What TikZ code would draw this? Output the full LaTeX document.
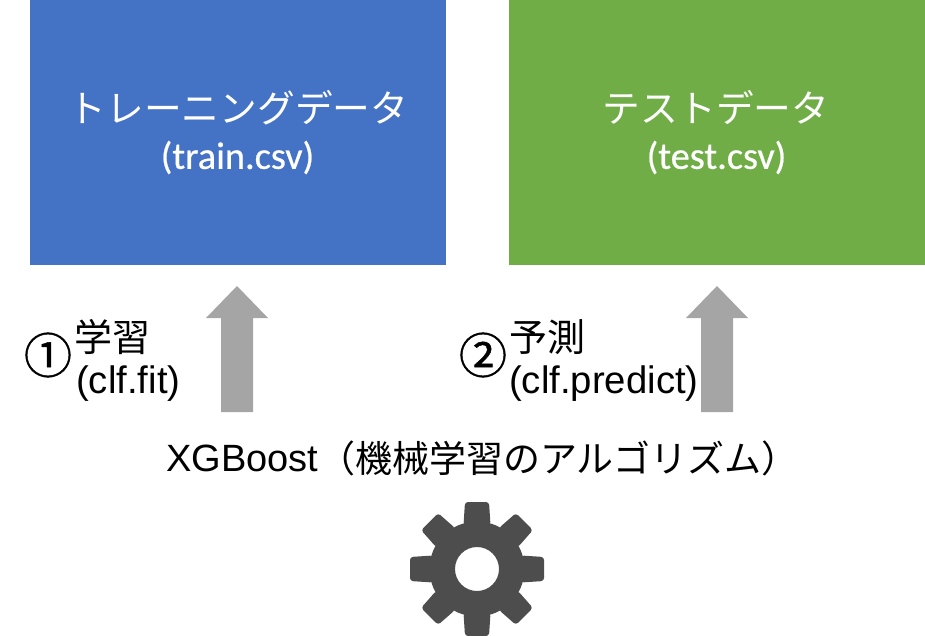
\documentclass[tikz,border=0pt]{standalone}
\usepackage{fontspec}
\setmainfont{Liberation Sans}
\newfontfamily\cjkfont{Noto Sans CJK JP}
\newfontfamily\calfont[FakeBold=0.6]{Carlito}
\newfontfamily\numfont[FakeBold=1]{Noto Sans CJK JP}
\newcommand{\fsz}[1]{\fontsize{#1}{#1}\selectfont}
\definecolor{bluebox}{HTML}{4472C4}
\definecolor{greenbox}{HTML}{70AD47}
\definecolor{arrowgray}{HTML}{A5A5A5}
\definecolor{geargray}{HTML}{4D4D4D}
\tikzset{
 x=1pt,y=-1pt,
 databox/.style={inner sep=0pt,minimum width=416pt,minimum height=265pt,anchor=north west},
 boxjp/.style={text=white,inner sep=0pt,font=\cjkfont\fsz{37.7}},
 boxen/.style={text=white,inner sep=0pt,font=\calfont\fsz{38.3}},
 lbljp/.style={text=black,inner sep=0pt,anchor=west,font=\cjkfont\fsz{38}},
 lblen/.style={text=black,inner sep=0pt,anchor=west,font=\fsz{38.3}},
 num/.style={text=black,inner sep=0pt,font=\numfont\fsz{48}},
 uparrow/.style={fill=arrowgray,draw=none},
}
\begin{document}
\begin{tikzpicture}
\useasboundingbox (0,0) rectangle (925,636);
\node[databox,fill=bluebox] (train) at (30,0) {};
\node[databox,fill=greenbox] (test) at (509,0) {};
\node[boxjp] (trainjp) at (238.5,108) {トレーニングデータ};
\node[boxen] (trainen) at (237.5,157.5) {(train.csv)};
\node[boxjp] (testjp) at (716,108) {テストデータ};
\node[boxen] (testen) at (716.5,157.5) {(test.csv)};
\foreach \c/\n in {237/a,717/b}{
  \coordinate (\n) at (\c,412);
  \fill[uparrow] (\n) ++(-16,0) -- ++(0,-94) -- ++(-15,0) -- ++(31,-32) -- ++(31,32) -- ++(-15,0) -- ++(0,94) -- cycle;
}
\node[num] (one) at (48,355) {①};
\node[lbljp] (l1) at (74,337) {学習};
\node[lblen] (l1e) at (76,384) {(clf.fit)};
\node[num] (two) at (483,355) {②};
\node[lbljp] (l2) at (509,337) {予測};
\node[lblen] (l2e) at (509,384) {(clf.predict)};
\node[inner sep=0pt,anchor=west,font=\fsz{38}] (xgb) at (166,458) {XGBoost};
\node[inner sep=0pt,anchor=west,font=\cjkfont\fsz{37}] (xgbjp) at (318,458) {（機械学習のアルゴリズム）};
\coordinate (g) at (477,569);
\begin{scope}[shift={(g)}]
\fill[geargray,even odd rule] (0,0) circle (47.5) (0,0) circle (22);
\foreach \a in {0,45,...,315}{
  \begin{scope}[rotate=\a]
  \fill[geargray,rounded corners=3pt] (-13.5,-44) -- (-12,-67) -- (12,-67) -- (13.5,-44) -- cycle;
  \end{scope}
}
\end{scope}
\end{tikzpicture}
\end{document}
